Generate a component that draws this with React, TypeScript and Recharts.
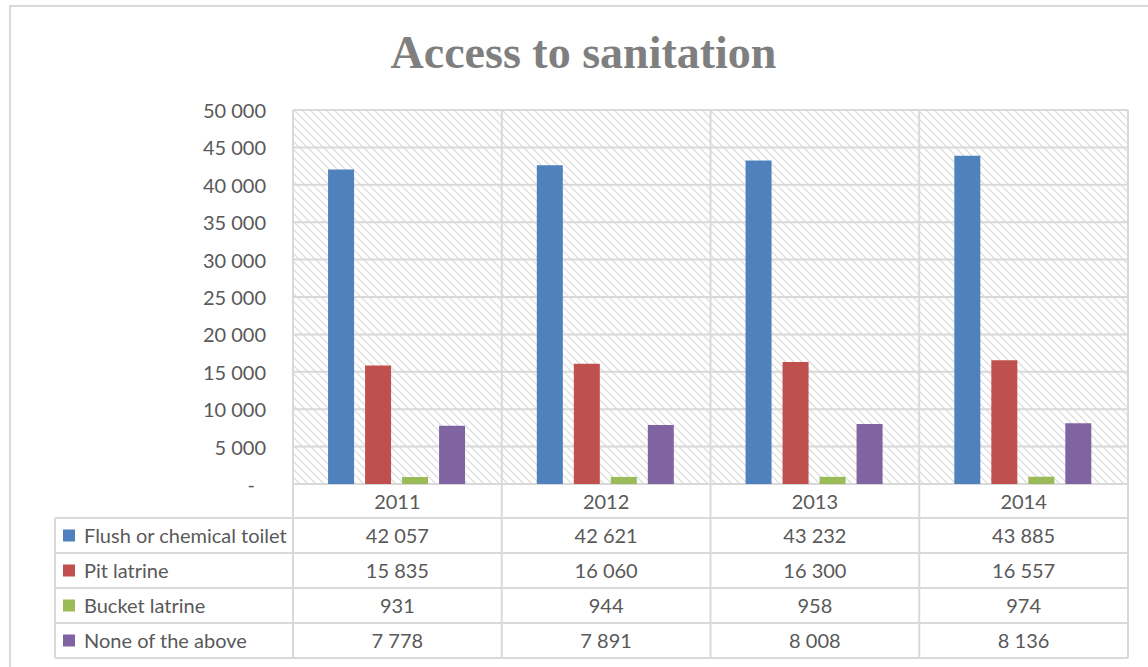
import React from 'react';
import { BarChart, Bar, XAxis, YAxis, CartesianGrid } from 'recharts';

// ---- data ----
const years = ['2011', '2012', '2013', '2014'];
const seriesNames = ['Flush or chemical toilet', 'Pit latrine', 'Bucket latrine', 'None of the above'];
const seriesKeys = ['flush', 'pit', 'bucket', 'none'];
const seriesColors = ['#4f81bd', '#c0504d', '#9bbb59', '#8064a2'];
const flushToilet = [42057, 42621, 43232, 43885];
const pitLatrine = [15835, 16060, 16300, 16557];
const bucketLatrine = [931, 944, 958, 974];
const noneOfTheAbove = [7778, 7891, 8008, 8136];
const yTicks = [0, 5000, 10000, 15000, 20000, 25000, 30000, 35000, 40000, 45000, 50000];

const seriesValues = [flushToilet, pitLatrine, bucketLatrine, noneOfTheAbove];

const data = years.map((year, i) => {
  const row: Record<string, string | number> = { year };
  seriesKeys.forEach((k, s) => {
    row[k] = seriesValues[s][i];
  });
  return row;
});

// ---- layout ----
const W = 1148;
const H = 667;
const PLOT_LEFT = 293;
const PLOT_RIGHT = 1128;
const PLOT_TOP = 110;
const PLOT_H = 374;
const LABEL_LEFT = 55;
const HEADER_H = 34;
const ROW_H = 35;
const TABLE_H = HEADER_H + ROW_H * seriesNames.length;
const BORDER = '#d9d9d9';
const TEXT = '#595959';
const FONT = 'Lato, "Liberation Sans", sans-serif';
const FONT_SIZE = 20;

const fmt = (v: number) => v.toLocaleString('en-US').replace(/,/g, ' ');

// Y axis labels, zero shown as a dash
function YTick(props: any) {
  const { x, y, payload } = props;
  const v = payload.value as number;
  return (
    <text
      x={v === 0 ? x - 11 : x}
      y={y}
      textAnchor="end"
      dominantBaseline="central"
      fill={TEXT}
      fontFamily={FONT}
      fontSize={FONT_SIZE}
    >
      {v === 0 ? '-' : fmt(v)}
    </text>
  );
}

// Each category tick draws its column of the data table below the plot
function TableColumnTick(props: any) {
  const { x, y, payload, index } = props;
  const colW = (PLOT_RIGHT - PLOT_LEFT) / years.length;
  const left = x - colW / 2;
  const right = x + colW / 2;
  const top = y;
  const bottom = top + TABLE_H;
  const i = years.indexOf(payload.value);
  const lineStart = index === 0 ? LABEL_LEFT : left;

  return (
    <g>
      {/* column borders */}
      {index === 0 && <line x1={left} y1={top} x2={left} y2={bottom} stroke={BORDER} strokeWidth={2} />}
      {index === 0 && (
        <line x1={LABEL_LEFT} y1={top + HEADER_H} x2={LABEL_LEFT} y2={bottom} stroke={BORDER} strokeWidth={2} />
      )}
      <line x1={right} y1={top} x2={right} y2={bottom} stroke={BORDER} strokeWidth={2} />
      {seriesNames.map((_, r) => (
        <line
          key={`h${r}`}
          x1={lineStart}
          x2={right}
          y1={top + HEADER_H + r * ROW_H}
          y2={top + HEADER_H + r * ROW_H}
          stroke={BORDER}
          strokeWidth={2}
        />
      ))}
      <line x1={lineStart} x2={right} y1={bottom} y2={bottom} stroke={BORDER} strokeWidth={2} />

      {/* year header */}
      <text
        x={x}
        y={top + HEADER_H / 2}
        textAnchor="middle"
        dominantBaseline="central"
        fill={TEXT}
        fontFamily={FONT}
        fontSize={FONT_SIZE}
      >
        {payload.value}
      </text>

      {/* values */}
      {seriesValues.map((vals, r) => (
        <text
          key={`v${r}`}
          x={x}
          y={top + HEADER_H + r * ROW_H + ROW_H / 2 - 1}
          textAnchor="middle"
          dominantBaseline="central"
          fill={TEXT}
          fontFamily={FONT}
          fontSize={FONT_SIZE}
        >
          {fmt(vals[i])}
        </text>
      ))}

      {/* series labels with colour keys */}
      {index === 0 &&
        seriesNames.map((name, r) => {
          const cy = top + HEADER_H + r * ROW_H + ROW_H / 2;
          return (
            <g key={`l${r}`}>
              <rect x={LABEL_LEFT + 8} y={cy - 6} width={12} height={12} fill={seriesColors[r]} />
              <text
                x={LABEL_LEFT + 29}
                y={cy - 1}
                dominantBaseline="central"
                fill={TEXT}
                fontFamily={FONT}
                fontSize={FONT_SIZE}
              >
                {name}
              </text>
            </g>
          );
        })}
    </g>
  );
}

const boundaryGenerator = ({ offset }: any) =>
  years.map((_, i) => offset.left + (i * offset.width) / years.length).concat(offset.left + offset.width);

export default function App() {
  return (
    <div
      style={{
        position: 'absolute',
        left: 0,
        top: 0,
        width: W,
        height: H,
        overflow: 'hidden',
        background: '#ffffff',
      }}
    >
      <div
        style={{
          position: 'absolute',
          left: 9,
          top: 5,
          width: W + 40,
          height: H + 40,
          border: `2px solid ${BORDER}`,
          boxSizing: 'border-box',
        }}
      />
      <svg style={{ position: 'absolute', left: 0, top: 0 }} width={W} height={100}>
        <text
          x={583.5}
          y={68}
          textAnchor="middle"
          fill="#7f7f7f"
          fontFamily='"Liberation Serif", serif'
          fontWeight="bold"
          fontSize={46}
        >
          Access to sanitation
        </text>
      </svg>
      <div style={{ position: 'absolute', left: 0, top: 0 }}>
        <BarChart
          width={W}
          height={H}
          data={data}
          margin={{ top: PLOT_TOP, right: W - PLOT_RIGHT, bottom: H - PLOT_TOP - PLOT_H - TABLE_H, left: 0 }}
          barCategoryGap="16.8%"
          barGap={11}
        >
          <defs>
            <pattern id="hatch" width={8} height={8} patternUnits="userSpaceOnUse">
              <line x1={0} y1={0} x2={8} y2={8} stroke="#dedede" strokeWidth={1.3} />
              <line x1={-1} y1={7} x2={1} y2={9} stroke="#dedede" strokeWidth={1.3} />
              <line x1={7} y1={-1} x2={9} y2={1} stroke="#dedede" strokeWidth={1.3} />
            </pattern>
          </defs>
          <CartesianGrid
            fill="url(#hatch)"
            stroke={BORDER}
            strokeWidth={2}
            verticalCoordinatesGenerator={boundaryGenerator}
          />
          <XAxis
            dataKey="year"
            height={TABLE_H}
            axisLine={false}
            tickLine={false}
            tickSize={0}
            tickMargin={0}
            interval={0}
            tick={<TableColumnTick />}
          />
          <YAxis
            width={PLOT_LEFT}
            domain={[0, 50000]}
            ticks={yTicks}
            axisLine={false}
            tickLine={false}
            tickMargin={21}
            tick={<YTick />}
          />
          {seriesKeys.map((k, s) => (
            <Bar key={k} dataKey={k} name={seriesNames[s]} fill={seriesColors[s]} isAnimationActive={false} />
          ))}
        </BarChart>
      </div>
    </div>
  );
}
